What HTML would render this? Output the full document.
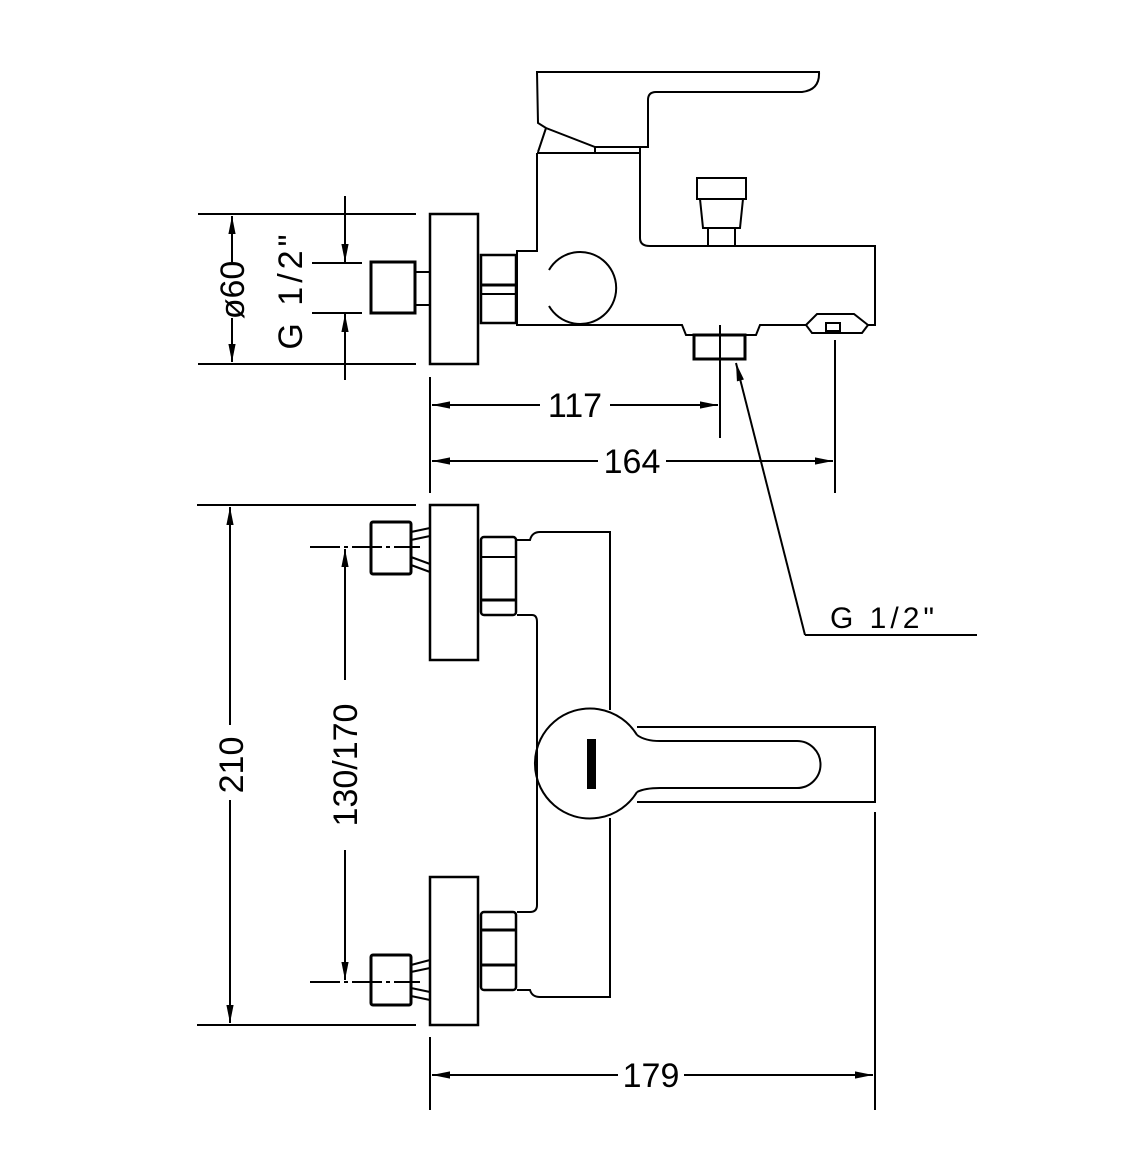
<!DOCTYPE html>
<html><head><style>body{margin:0;background:#fff}svg{display:block}text{font-family:"Liberation Sans",sans-serif;fill:#000}</style></head>
<body>
<svg width="1124" height="1168" viewBox="0 0 1124 1168" xmlns="http://www.w3.org/2000/svg">
<defs>
<marker id="a" viewBox="0 0 20 10" refX="20" refY="5" markerWidth="20" markerHeight="9" orient="auto-start-reverse" markerUnits="userSpaceOnUse"><path d="M0,1 L20,5 L0,9 z" fill="#000" stroke="none"/></marker>
</defs>
<g fill="none" stroke="#000" stroke-width="2">
<!-- TOP VIEW -->
<line x1="198" y1="214" x2="416" y2="214"/>
<line x1="198" y1="364" x2="416" y2="364"/>
<line x1="232" y1="216" x2="232" y2="262" marker-start="url(#a)"/>
<line x1="232" y1="318" x2="232" y2="362" marker-end="url(#a)"/>
<line x1="345" y1="196" x2="345" y2="262" marker-end="url(#a)"/>
<line x1="345" y1="314" x2="345" y2="380" marker-start="url(#a)"/>
<line x1="312" y1="263" x2="362" y2="263"/>
<line x1="312" y1="313" x2="362" y2="313"/>
<rect x="371" y="262" width="44" height="51" stroke-width="3"/>
<rect x="415" y="272" width="15" height="33"/>
<rect x="430" y="214" width="48" height="150" stroke-width="2.5"/>
<rect x="481" y="255" width="35" height="68" stroke-width="2.5"/>
<line x1="481" y1="285" x2="516" y2="285" stroke-width="3"/>
<line x1="481" y1="294" x2="516" y2="294"/>
<!-- lever -->
<path d="M537,72 L819,72 Q820,90 802,92 L656,92 Q648,92 648,100 L648,147 L595,147 L546,128 L538,123 Z"/>
<path d="M546,128 L538,152"/>
<rect x="595" y="147" width="45" height="6"/>
<!-- column and body -->
<path d="M537,153 L640,153 L640,238 Q640,246 650,246 L875,246 L875,325 L868,325"/>
<path d="M537,153 L537,251 L517,251 L517,325 L682,325 L686,335 L756,335 L760,325 L806,325"/>
<path d="M549,270 A36,36 0 1 1 549,306"/>
<!-- diverter -->
<rect x="697" y="178" width="49" height="21"/>
<path d="M700,199 L703,228 L740,228 L743,199"/>
<rect x="708" y="228" width="27" height="18"/>
<!-- outlet -->
<rect x="694" y="335" width="51" height="24" stroke-width="3"/>
<line x1="720" y1="325" x2="720" y2="438"/>
<path d="M806,325 L817,314 L854,314 L868,325 L862,333 L812,333 Z"/>
<rect x="826" y="323" width="14" height="8"/>
<line x1="835" y1="340" x2="835" y2="493"/>
<line x1="430" y1="377" x2="430" y2="493"/>
<line x1="432" y1="405" x2="540" y2="405" marker-start="url(#a)"/>
<line x1="610" y1="405" x2="718" y2="405" marker-end="url(#a)"/>
<line x1="432" y1="461" x2="598" y2="461" marker-start="url(#a)"/>
<line x1="666" y1="461" x2="833" y2="461" marker-end="url(#a)"/>
<line x1="805" y1="635" x2="736" y2="363" marker-end="url(#a)"/>
<line x1="805" y1="635" x2="977" y2="635"/>
<!-- FRONT VIEW -->
<line x1="197" y1="505" x2="416" y2="505"/>
<line x1="197" y1="1025" x2="416" y2="1025"/>
<line x1="230" y1="507" x2="230" y2="725" marker-start="url(#a)"/>
<line x1="230" y1="800" x2="230" y2="1023" marker-end="url(#a)"/>
<line x1="345" y1="549" x2="345" y2="680" marker-start="url(#a)"/>
<line x1="345" y1="850" x2="345" y2="980" marker-end="url(#a)"/>
<line x1="310" y1="547" x2="420" y2="547" stroke-dasharray="30 4 4 4"/>
<line x1="310" y1="982" x2="420" y2="982" stroke-dasharray="30 4 4 4"/>
<rect x="430" y="505" width="48" height="155" stroke-width="2.5"/>
<rect x="430" y="877" width="48" height="148" stroke-width="2.5"/>
<rect x="371" y="522" width="40" height="52" rx="2" stroke-width="3"/>
<rect x="371" y="955" width="40" height="50" rx="2" stroke-width="3"/>
<path d="M411,532 L430,528 M411,540 L430,536 M411,565 L430,572 M411,557 L430,564"/>
<path d="M411,965 L430,960 M411,972 L430,968 M411,996 L430,1000 M411,988 L430,992"/>
<rect x="481" y="537" width="35" height="78" rx="3" stroke-width="2.5"/>
<line x1="481" y1="557" x2="516" y2="557"/><line x1="481" y1="600" x2="516" y2="600" stroke-width="3"/>
<rect x="481" y="912" width="35" height="78" rx="3" stroke-width="2.5"/>
<line x1="481" y1="930" x2="516" y2="930" stroke-width="3"/><line x1="481" y1="965" x2="516" y2="965" stroke-width="3"/>
<path d="M517,540 L530,540 Q532,532 540,532 L610,532 L610,710"/>
<path d="M610,818 L610,997 L540,997 Q532,997 530,990 L517,990"/>
<path d="M517,615 L532,615 Q537,615 537,622 L537,905 Q537,912 530,912 L517,912"/>
<path d="M637,735 A55,55 0 1 0 637,792"/>
<path d="M637,735 Q645,741 660,741 L797,741 A23.5,23.5 0 0 1 797,788 L660,788 Q645,788 637,792"/>
<path d="M637,727 L875,727 L875,802 L637,802"/>
<line x1="875" y1="812" x2="875" y2="1110"/>
<line x1="430" y1="1037" x2="430" y2="1110"/>
<line x1="432" y1="1075" x2="618" y2="1075" marker-start="url(#a)"/>
<line x1="684" y1="1075" x2="873" y2="1075" marker-end="url(#a)"/>
</g>
<rect x="587" y="739" width="9" height="50" fill="#000"/>
<g font-size="34">
<text x="575" y="417" text-anchor="middle">117</text>
<text x="632" y="473" text-anchor="middle">164</text>
<text x="651" y="1087" text-anchor="middle">179</text>
<text x="830" y="628" font-size="30" letter-spacing="4">G 1/2"</text>
<text transform="translate(244,290) rotate(-90)" text-anchor="middle">ø60</text>
<text transform="translate(302,290) rotate(-90)" text-anchor="middle" letter-spacing="4">G 1/2"</text>
<text transform="translate(243,765) rotate(-90)" text-anchor="middle">210</text>
<text transform="translate(357,765) rotate(-90)" text-anchor="middle">130/170</text>
</g>
</svg>
</body></html>
